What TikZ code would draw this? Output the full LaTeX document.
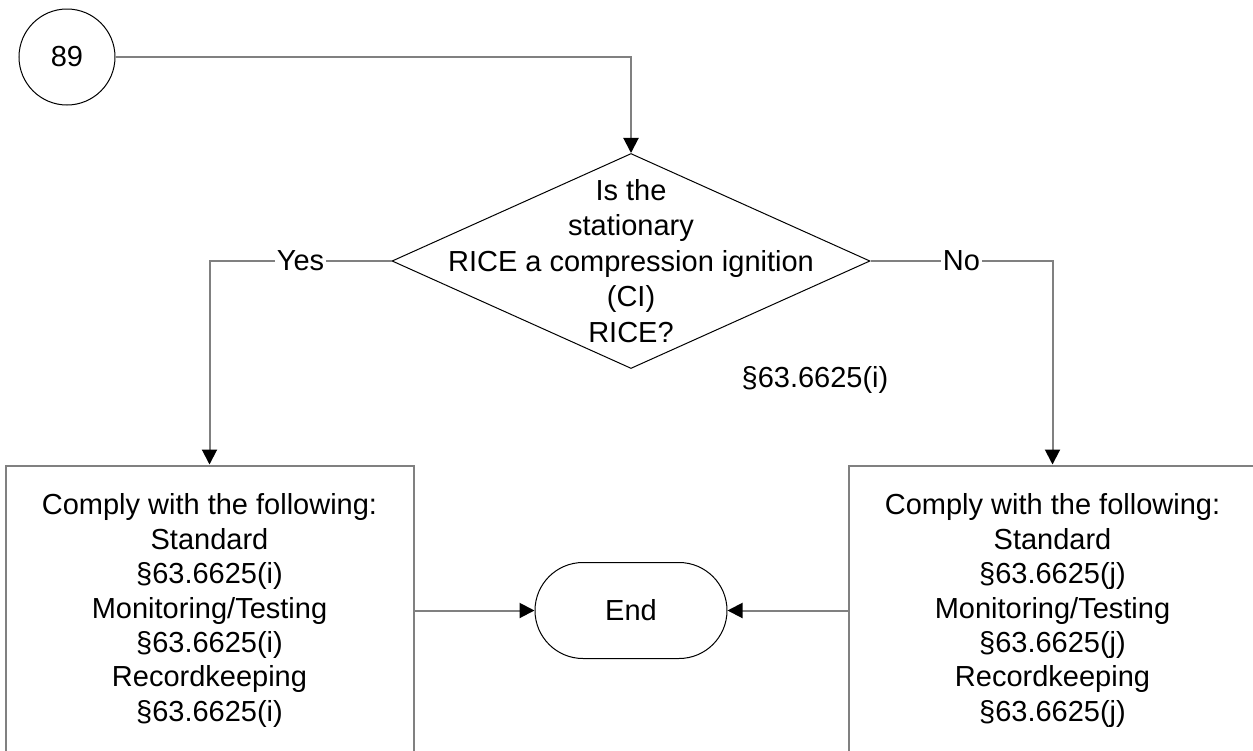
\documentclass[tikz,border=0pt]{standalone}
\usepackage{fontspec}
\setmainfont{Liberation Sans}
\usetikzlibrary{arrows.meta, positioning, shapes.geometric}
\definecolor{wire}{HTML}{808080}

\begin{document}
\begin{tikzpicture}[x=0.5pt, y=-0.5pt,
  font=\fontsize{14.5}{17.2}\selectfont,
  conn/.style={line width=1pt, wire, -{Triangle[length=7.5pt, width=7.5pt, color=black]}},
  jump/.style={circle, draw=black, line width=0.5pt, minimum size=48pt, inner sep=0pt},
  decide/.style={diamond, draw=black, line width=0.5pt, minimum width=239pt,
    minimum height=107.5pt, inner sep=0pt},
  term/.style={rectangle, rounded corners=24pt, draw=black, line width=0.5pt,
    minimum width=96pt, minimum height=48pt},
  reqbox/.style={rectangle, draw=wire, line width=1pt, align=center,
    minimum width=204pt, minimum height=145pt},
  lbl/.style={fill=white, text=black, inner sep=1pt}]
  \useasboundingbox (0,0) rectangle (1253,750);
  \node[jump] (c89) at (67,57) {89};
  \node[decide] (dec) at (631,261) {};
  \node[align=center, font=\fontsize{14.5}{17.75}\selectfont] (q) at (dec)
    {Is the\\stationary\\RICE a compression ignition\\(CI)\\RICE?};
  \node (sec) at (815,380) {§63.6625(i)};
  \node[term, below=96.5pt of dec] (endn) {End};
  \node[reqbox, left=60pt of endn] (lbox) {Comply with the following:\\Standard\\§63.6625(i)\\
    Monitoring/Testing\\§63.6625(i)\\Recordkeeping\\§63.6625(i)};
  \node[reqbox, right=60pt of endn] (rbox) {Comply with the following:\\Standard\\§63.6625(j)\\
    Monitoring/Testing\\§63.6625(j)\\Recordkeeping\\§63.6625(j)};
  \draw[conn] (c89) -| (dec);
  \draw[conn] (dec.west) -| node[lbl, pos=0.25] {Yes} (lbox.north);
  \draw[conn] (dec.east) -| node[lbl, pos=0.25] {No} (rbox.north);
  \draw[conn] (lbox) -- (endn);
  \draw[conn] (rbox) -- (endn);
\end{tikzpicture}
\end{document}
